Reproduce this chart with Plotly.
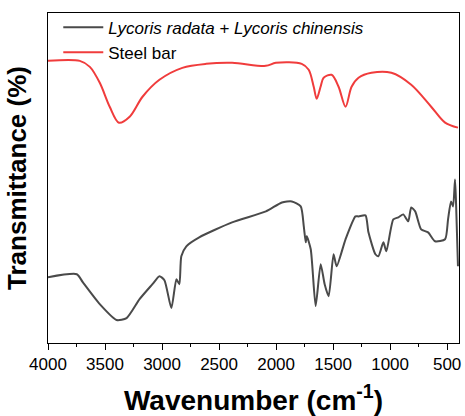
import plotly.graph_objects as go

# Steel bar (red) spectrum, arbitrary transmittance units
steel_wn = [4000, 3721, 3633, 3546, 3459, 3378, 3284, 3171, 3023, 2822, 2613, 2385,
            2090, 2002, 1775, 1714, 1670, 1644, 1610, 1583, 1513, 1452, 1391, 1338,
            1277, 1164, 989, 815, 640, 518, 405]
steel_t = [283, 283, 277, 261, 237, 221, 227, 247, 264, 276, 280, 281,
           278, 281, 280, 274, 257, 245, 257, 266, 269, 257, 237, 257,
           266, 271, 271, 259, 237, 221, 216]

# Lycoris radata + Lycoris chinensis (dark grey) spectrum
lyc_wn = [4000, 3747, 3695, 3546, 3398, 3311, 3197, 3084, 3023, 2979, 2918, 2874,
          2848, 2831, 2787, 2674, 2386, 2089, 1949, 1862, 1784, 1757, 1740, 1731,
          1696, 1653, 1609, 1574, 1539, 1496, 1469, 1391, 1304, 1277, 1216, 1190,
          1129, 1103, 1059, 1033, 972, 928, 885, 841, 815, 780, 728, 667, 606,
          518, 492, 466, 448, 431, 422, 405]
lyc_t = [66, 69, 61, 39, 23, 25, 44, 59, 67, 63, 35, 64,
         59, 87, 97, 106, 121, 132, 141, 142, 137, 117, 101, 107,
         94, 37, 79, 59, 47, 89, 77, 104, 127, 127, 128, 111,
         89, 87, 101, 92, 124, 126, 129, 122, 136, 132, 114, 111, 102,
         104, 124, 142, 137, 164, 141, 77]

xticks = [4000, 3500, 3000, 2500, 2000, 1500, 1000, 500]

fig = go.Figure()
fig.add_trace(go.Scatter(x=lyc_wn, y=lyc_t, mode="lines",
                         name="<i>Lycoris radata</i> + <i>Lycoris chinensis</i>",
                         line=dict(color="#4a4a4a", width=2, shape="spline",
                                   smoothing=0.6)))
fig.add_trace(go.Scatter(x=steel_wn, y=steel_t, mode="lines", name="Steel bar",
                         line=dict(color="#f03c3c", width=2, shape="spline",
                                   smoothing=0.9)))

fig.update_layout(
    width=465, height=416,
    margin=dict(l=48, r=4, t=13, b=72),
    paper_bgcolor="white", plot_bgcolor="white",
    font=dict(family="Arial, Liberation Sans, sans-serif", color="black"),
    showlegend=True,
    legend=dict(x=0.025, y=1.01, xanchor="left", yanchor="top",
                bgcolor="rgba(0,0,0,0)", font=dict(size=17), tracegroupgap=0,
                itemwidth=40),
    xaxis=dict(range=[4000, 396], tickvals=xticks, ticks="outside", ticklen=6,
               tickwidth=1, tickcolor="black", showline=True, linecolor="black",
               linewidth=1, mirror=True, showgrid=False, zeroline=False,
               tickfont=dict(size=17),
               minor=dict(dtick=250, ticks="outside", ticklen=3, tickcolor="black"),
               title=dict(text="<b>Wavenumber (cm<sup>-1</sup>)</b>",
                          font=dict(size=28), standoff=18)),
    yaxis=dict(range=[0, 331], showticklabels=False, ticks="", showline=True,
               linecolor="black", linewidth=1, mirror=True, showgrid=False,
               zeroline=False,
               title=dict(text="<b>Transmittance (%)</b>", font=dict(size=26),
                          standoff=12)),
)

fig.write_html("out.html")
